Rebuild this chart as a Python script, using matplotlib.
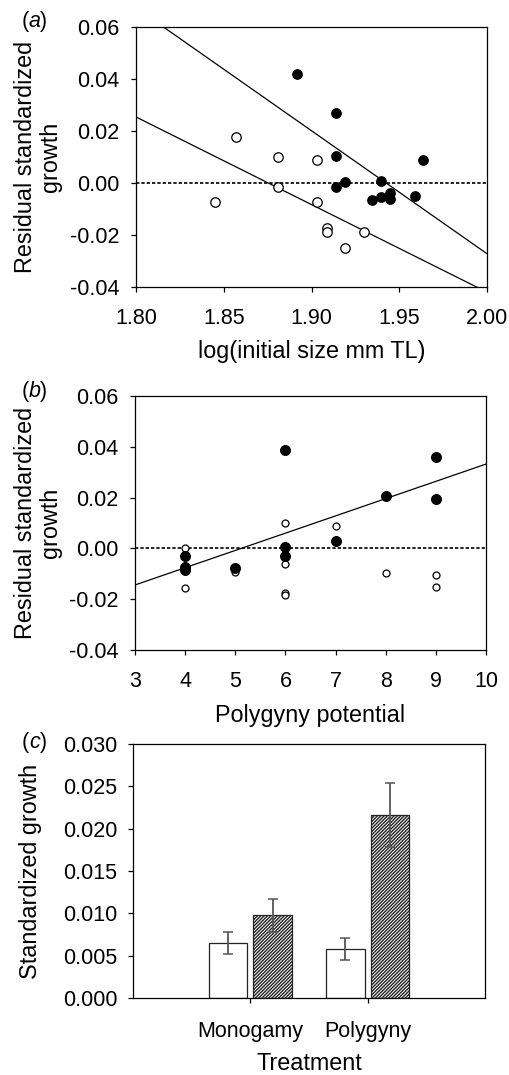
import numpy as np
import matplotlib
matplotlib.use('Agg')
import matplotlib.pyplot as plt

plt.rcParams['font.family'] = ['Liberation Sans', 'DejaVu Sans']
plt.rcParams['font.size'] = 16.8
plt.rcParams['xtick.labelsize'] = 15.5
plt.rcParams['ytick.labelsize'] = 15.5
plt.rcParams['hatch.linewidth'] = 1.0

# panel (a): residual growth vs log initial size
a_open_x = [1.845, 1.857, 1.881, 1.881, 1.903, 1.903, 1.909, 1.909, 1.919, 1.930]
a_open_y = [-0.0074, 0.0176, 0.0100, -0.0017, 0.0088, -0.0073, -0.0172, -0.0190, -0.0250, -0.0190]
a_fill_x = [1.892, 1.914, 1.914, 1.914, 1.919, 1.9345, 1.9395, 1.9395, 1.9446, 1.9446, 1.9588, 1.9636]
a_fill_y = [0.0421, 0.0268, 0.0103, -0.0014, 0.0003, -0.0064, 0.0009, -0.0055, -0.0038, -0.0060, -0.0051, 0.0088]
a_fit_fill = (-0.473, 0.9188)   # slope, intercept
a_fit_open = (-0.337, 0.632)

# panel (b): residual growth vs polygyny potential
b_fill_x = [6, 9, 8, 9, 7, 6, 6, 4, 4, 4, 5]
b_fill_y = [0.0386, 0.0359, 0.0206, 0.0195, 0.0029, 0.0004, -0.0029, -0.0031, -0.0072, -0.0085, -0.0079]
b_open_x = [4, 4, 5, 6, 6, 6, 6, 7, 8, 9, 9]
b_open_y = [0.0003, -0.0157, -0.0094, 0.0101, -0.0063, -0.0177, -0.0185, 0.0088, -0.0096, -0.0105, -0.0152]
b_fit = (0.0068, -0.0348)

# panel (c): standardized growth by treatment
treatments = ['Monogamy', 'Polygyny']
c_open = [0.00655, 0.00584]
c_open_err = [0.0013, 0.0013]
c_hatch = [0.00975, 0.02163]
c_hatch_err = [0.0020, 0.0038]

W, H = 510, 1075
fig = plt.figure(figsize=(W / 100, H / 100), dpi=100)


def add_axes(l, r, t, b):
    return fig.add_axes([l / W, 1 - b / H, (r - l) / W, (b - t) / H])


def style(ax, xpad, ypad):
    for s in ax.spines.values():
        s.set_linewidth(0.9)
    ax.tick_params(direction='out', length=3.4, width=0.9, top=False, right=False)
    ax.tick_params(axis='x', pad=xpad)
    ax.tick_params(axis='y', pad=ypad)


ax1 = add_axes(136, 487, 27, 287)
ax2 = add_axes(135, 486, 396, 650)
ax3 = add_axes(133, 485, 744, 998)

ylab = 'Residual standardized\ngrowth'
res_ticks = [-0.04, -0.02, 0.0, 0.02, 0.04, 0.06]
res_labels = ['-0.04', '-0.02', '0.00', '0.02', '0.04', '0.06']

# (a)
xs = np.array([1.8, 2.0])
ax1.axhline(0, color='black', lw=1.2, ls=(0, (2, 1.2)), zorder=1)
for m, c in (a_fit_fill, a_fit_open):
    ax1.plot(xs, m * xs + c, color='black', lw=0.9, zorder=2)
ax1.plot(a_open_x, a_open_y, 'o', ms=6.8, mfc='white', mec='black', mew=0.9, zorder=3)
ax1.plot(a_fill_x, a_fill_y, 'o', ms=6.8, mfc='black', mec='black', mew=0.9, zorder=4)
ax1.set_xlim(1.8, 2.0)
ax1.set_ylim(-0.04, 0.06)
ax1.set_xticks([1.80, 1.85, 1.90, 1.95, 2.00])
ax1.set_xticklabels(['1.80', '1.85', '1.90', '1.95', '2.00'])
ax1.set_yticks(res_ticks)
ax1.set_yticklabels(res_labels)
ax1.set_xlabel('log(initial size mm TL)')
ax1.set_ylabel(ylab, linespacing=1.1)
ax1.xaxis.set_label_coords(0.5, -0.205)
ax1.yaxis.set_label_coords(-0.212, 0.5)
style(ax1, 11.5, 8.4)

# (b)
xs = np.array([3, 10])
ax2.axhline(0, color='black', lw=1.2, ls=(0, (2, 1.2)), zorder=1)
ax2.plot(xs, b_fit[0] * xs + b_fit[1], color='black', lw=0.9, zorder=2)
ax2.plot(b_open_x, b_open_y, 'o', ms=5.0, mfc='white', mec='black', mew=0.9, zorder=3)
ax2.plot(b_fill_x, b_fill_y, 'o', ms=7.0, mfc='black', mec='black', mew=0.9, zorder=4)
ax2.set_xlim(3, 10)
ax2.set_ylim(-0.04, 0.06)
ax2.set_xticks(range(3, 11))
ax2.set_yticks(res_ticks)
ax2.set_yticklabels(res_labels)
ax2.set_xlabel('Polygyny potential')
ax2.set_ylabel(ylab, linespacing=1.1)
ax2.xaxis.set_label_coords(0.5, -0.214)
ax2.yaxis.set_label_coords(-0.209, 0.5)
style(ax2, 11.5, 8.4)

# (c)
pos = np.arange(1, len(treatments) + 1)
ekw = dict(ecolor='#555555', elinewidth=1.3, capsize=3.5, capthick=1.1)
ax3.bar(pos - 0.19, c_open, width=0.33, color='white', edgecolor='#222222', lw=0.9,
        yerr=c_open_err, error_kw=ekw)
ax3.bar(pos + 0.19, c_hatch, width=0.33, color='white', edgecolor='#222222', lw=0.9,
        hatch='//////////', yerr=c_hatch_err, error_kw=ekw)
ax3.set_xlim(0, 3)
ax3.set_ylim(0, 0.03)
ax3.set_xticks(pos)
ax3.set_xticklabels(treatments)
ax3.set_yticks(np.arange(0, 0.0301, 0.005))
ax3.set_yticklabels(['0.000', '0.005', '0.010', '0.015', '0.020', '0.025', '0.030'])
ax3.set_xlabel('Treatment')
ax3.set_ylabel('Standardized growth')
ax3.xaxis.set_label_coords(0.5, -0.213)
ax3.yaxis.set_label_coords(-0.259, 0.5)
style(ax3, 13.5, 8.0)

for lab, y in (('a', 11), ('b', 381), ('c', 732)):
    fig.text(22 / W, 1 - y / H, '(', ha='left', va='top', fontsize=15.5)
    fig.text(29 / W, 1 - y / H, lab, ha='left', va='top', style='italic', fontsize=15.5)
    fig.text(40 / W, 1 - y / H, ')', ha='left', va='top', fontsize=15.5)

fig.savefig('out.png', dpi=100)
